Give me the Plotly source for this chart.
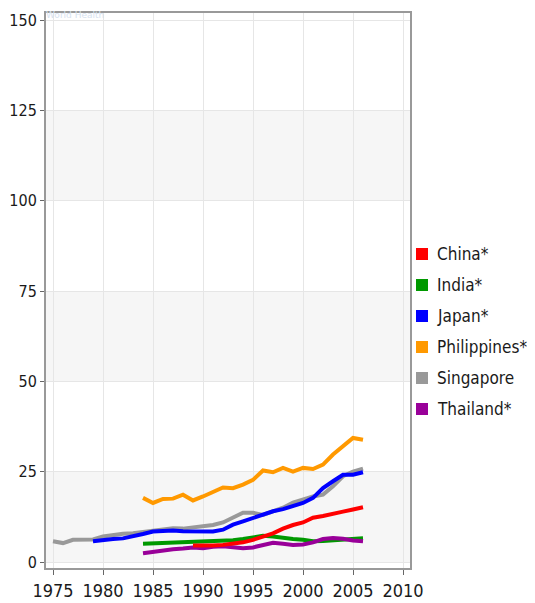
import plotly.graph_objects as go

years_china = list(range(1989, 2007))
china = [4.6, 4.5, 4.6, 4.8, 5.1, 5.5, 6.2, 7.0, 8.0, 9.3, 10.3, 11.0, 12.3, 12.8, 13.5, 14.0, 14.6, 15.2]

years_india = list(range(1984, 2007))
india = [5.1, 5.2, 5.4, 5.5, 5.6, 5.7, 5.8, 6.0, 6.0, 6.1, 6.4, 6.9, 7.3, 7.1, 6.7, 6.4, 6.2, 5.8, 5.9, 6.1, 6.3, 6.5, 6.6]

years_japan = list(range(1979, 2007))
japan = [5.8, 6.2, 6.4, 6.6, 7.1, 7.8, 8.5, 8.7, 8.8, 8.6, 8.5, 8.4, 8.5, 9.0, 10.4, 11.3, 12.2, 13.1, 14.1, 14.7, 15.6, 16.4, 17.8, 20.5, 22.4, 24.2, 24.2, 24.9]

years_phil = list(range(1984, 2007))
philippines = [17.8, 16.4, 17.5, 17.6, 18.7, 17.1, 18.2, 19.6, 20.7, 20.5, 21.5, 22.8, 25.4, 24.9, 26.1, 25.1, 26.1, 25.8, 27.0, 29.8, 32.0, 34.4, 33.9]

years_sing = list(range(1975, 2007))
singapore = [5.8, 5.3, 6.2, 6.2, 6.3, 7.1, 7.5, 7.9, 8.0, 8.3, 8.8, 9.0, 9.4, 9.3, 9.6, 9.9, 10.3, 11.0, 12.3, 13.7, 13.7, 13.1, 14.1, 15.1, 16.5, 17.3, 18.2, 18.7, 21.0, 23.8, 25.1, 25.9]

years_thai = list(range(1984, 2007))
thailand = [2.5, 2.9, 3.4, 3.6, 3.8, 4.1, 3.9, 4.3, 4.4, 4.2, 3.9, 4.1, 4.8, 5.4, 5.1, 4.8, 4.9, 5.5, 6.4, 6.7, 6.5, 6.0, 5.8]

series = [
    ("China*", years_china, china, "#ff0000"),
    ("India*", years_india, india, "#009900"),
    ("Japan*", years_japan, japan, "#0000ff"),
    ("Philippines*", years_phil, philippines, "#ff9900"),
    ("Singapore", years_sing, singapore, "#999999"),
    ("Thailand*", years_thai, thailand, "#990099"),
]

x_ticks = [1975, 1980, 1985, 1990, 1995, 2000, 2005, 2010]
y_ticks = [0, 25, 50, 75, 100, 125, 150]
bands = [(0, 25), (50, 75), (100, 125)]

# page body adds an 8px offset; the figure is sized so the screenshot matches
OFF = 8
W, H = 535 - OFF, 603 - OFF
ML, MT = 46 - OFF, 13 - OFF
PR, PB = 410 - OFF, 568 - OFF
MR, MB = W - PR, H - PB
pw, ph = PR - ML, PB - MT

def px_to_paper_x(px):
    return (px - OFF - ML) / pw

def px_to_paper_y(py):
    return (PB - (py - OFF)) / ph

fig = go.Figure()
order = [4, 3, 2, 1, 5, 0]
for i in order:
    name, xs, ys, col = series[i]
    fig.add_trace(go.Scatter(x=xs, y=ys, mode="lines", name=name,
                             line=dict(color=col, width=4),
                             showlegend=False, hoverinfo="skip"))

for y0, y1 in bands:
    fig.add_shape(type="rect", xref="paper", x0=0, x1=1, yref="y", y0=y0, y1=y1,
                  fillcolor="#f6f6f6", line=dict(width=0), layer="below")

font_family = "DejaVu Sans Condensed, DejaVu Sans"
annotations = []
leg_top = 254
leg_step = 31
for k, (name, xs, ys, col) in enumerate(series):
    cy = leg_top + k * leg_step
    fig.add_shape(type="rect", xref="paper", yref="paper",
                  x0=px_to_paper_x(416), x1=px_to_paper_x(428),
                  y0=px_to_paper_y(cy + 6), y1=px_to_paper_y(cy - 6),
                  fillcolor=col, line=dict(width=0))
    annotations.append(dict(text=name, x=px_to_paper_x(435), y=px_to_paper_y(cy),
                            xref="paper", yref="paper", showarrow=False,
                            xanchor="left", yanchor="middle",
                            font=dict(size=17, family=font_family, color="#1a1a1a")))

annotations.append(dict(text="World Health", x=px_to_paper_x(44), y=px_to_paper_y(OFF),
                        xref="paper", yref="paper", showarrow=False, xanchor="left",
                        yanchor="top", font=dict(size=9, color="#d6e2f0", family="DejaVu Sans")))

fig.update_layout(
    width=W, height=H,
    margin=dict(l=ML, r=MR, t=MT, b=MB, pad=0, autoexpand=False),
    paper_bgcolor="white", plot_bgcolor="white",
    font=dict(family=font_family, size=18, color="#1a1a1a"),
    showlegend=False,
    annotations=annotations,
)
fig.update_xaxes(range=[1974.3, 2010.7], tickvals=x_ticks, ticktext=[str(t) for t in x_ticks],
                 showgrid=True, gridcolor="#e6e6e6", gridwidth=1, zeroline=False,
                 showline=True, linecolor="#999999", linewidth=2, mirror=True,
                 ticks="outside", ticklen=5, tickcolor="#666666", automargin=False)
fig.update_yaxes(range=[-1.6, 152], tickvals=y_ticks, ticktext=[str(t) for t in y_ticks],
                 tickfont=dict(size=16),
                 showgrid=True, gridcolor="#e6e6e6", gridwidth=1, zeroline=False,
                 showline=True, linecolor="#999999", linewidth=2, mirror=True,
                 ticks="outside", ticklen=4, tickcolor="#666666", automargin=False)

fig.write_html("out.html")
